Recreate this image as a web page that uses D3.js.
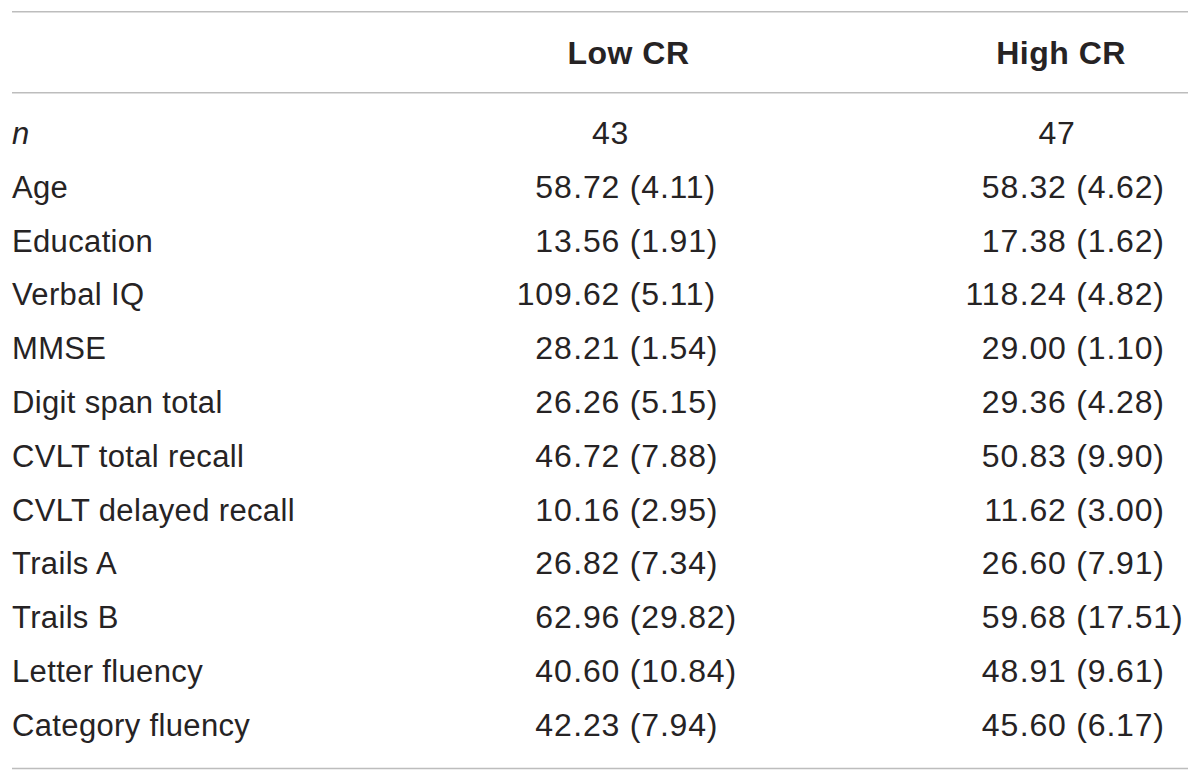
<!DOCTYPE html>
<html>
<head>
<meta charset="utf-8">
<script src="https://cdn.jsdelivr.net/npm/d3@7"></script>
<style>
  html, body { margin: 0; padding: 0; background: #fff; }
  svg { display: block; }
  text { font-family: "Liberation Sans", Arial, Helvetica, sans-serif; fill: #262324; }
</style>
</head>
<body>
<script>
// ---- data ----
const groups = ["Low CR", "High CR"];
const rowLabels = ["n", "Age", "Education", "Verbal IQ", "MMSE", "Digit span total",
  "CVLT total recall", "CVLT delayed recall", "Trails A", "Trails B",
  "Letter fluency", "Category fluency"];
const lowMean  = [43, 58.72, 13.56, 109.62, 28.21, 26.26, 46.72, 10.16, 26.82, 62.96, 40.60, 42.23];
const lowSD    = [null, 4.11, 1.91, 5.11, 1.54, 5.15, 7.88, 2.95, 7.34, 29.82, 10.84, 7.94];
const highMean = [47, 58.32, 17.38, 118.24, 29.00, 29.36, 50.83, 11.62, 26.60, 59.68, 48.91, 45.60];
const highSD   = [null, 4.62, 1.62, 4.82, 1.10, 4.28, 9.90, 3.00, 7.91, 17.51, 9.61, 6.17];

// ---- layout ----
const W = 1200, H = 782;
const svg = d3.select("body").append("svg").attr("width", W).attr("height", H);

const y = d3.scalePoint().domain(rowLabels).range([144, 144 + 11 * 53.8]);
const headerX = d3.scaleOrdinal().domain(groups).range([628.5, 1061]);
const decX = d3.scaleOrdinal().domain(groups).range([572.5, 1019]);
const nX = d3.scaleOrdinal().domain(groups).range([610.5, 1057]);

const ruleColor = "#bdbdbd";
[11.7, 92.7, 768.5].forEach(yy => {
  svg.append("line").attr("x1", 12).attr("x2", 1188).attr("y1", yy).attr("y2", yy)
    .attr("stroke", ruleColor).attr("stroke-width", 1.6);
});

// header
svg.selectAll("text.head").data(groups).enter().append("text")
  .attr("class", "head")
  .attr("x", d => headerX(d)).attr("y", 64)
  .attr("text-anchor", "middle")
  .attr("font-size", 32).attr("font-weight", "bold")
  .attr("letter-spacing", 0.5)
  .text(d => d);

// row labels
svg.selectAll("text.lab").data(rowLabels).enter().append("text")
  .attr("class", "lab")
  .attr("x", 12).attr("y", d => y(d))
  .attr("font-size", 31)
  .attr("letter-spacing", 0.35)
  .attr("font-style", d => d === "n" ? "italic" : "normal")
  .text(d => d);

// cells
const cols = [
  { g: "Low CR", mean: lowMean, sd: lowSD },
  { g: "High CR", mean: highMean, sd: highSD }
];
const cells = [];
cols.forEach(c => {
  rowLabels.forEach((r, i) => {
    cells.push({ g: c.g, row: r, mean: c.mean[i], sd: c.sd[i] });
  });
});

const numSize = 32, numLS = 0.8;
cells.forEach(d => {
  if (d.sd === null) {
    svg.append("text")
      .attr("x", nX(d.g)).attr("y", y(d.row))
      .attr("text-anchor", "middle")
      .attr("font-size", numSize).attr("letter-spacing", numLS)
      .text(String(d.mean));
  } else {
    const s = d.mean.toFixed(2);
    const dot = s.indexOf(".");
    const intPart = s.slice(0, dot);
    const rest = s.slice(dot) + " (" + d.sd.toFixed(2) + ")";
    svg.append("text")
      .attr("x", decX(d.g)).attr("y", y(d.row))
      .attr("text-anchor", "end")
      .attr("font-size", numSize).attr("letter-spacing", numLS)
      .text(intPart);
    svg.append("text")
      .attr("x", decX(d.g) + numLS).attr("y", y(d.row))
      .attr("text-anchor", "start")
      .attr("font-size", numSize).attr("letter-spacing", numLS)
      .text(rest);
  }
});
</script>
</body>
</html>
